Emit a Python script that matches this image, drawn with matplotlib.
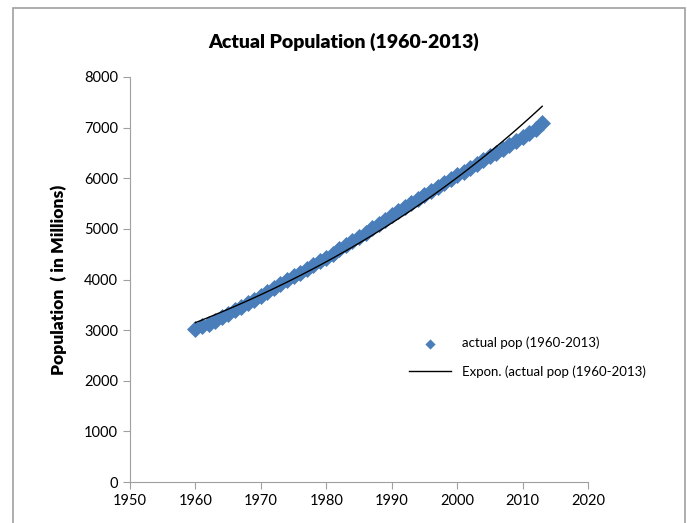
import numpy as np
import matplotlib.pyplot as plt
from matplotlib.patches import Rectangle

years = list(range(1960, 2014))
pop = [3032, 3073, 3126, 3190, 3256, 3322, 3393, 3460, 3531, 3604,
       3682, 3760, 3836, 3912, 3988, 4062, 4135, 4208, 4282, 4358,
       4434, 4512, 4593, 4675, 4757, 4840, 4925, 5012, 5099, 5185,
       5271, 5354, 5435, 5515, 5594, 5672, 5750, 5827, 5903, 5979,
       6055, 6131, 6206, 6281, 6356, 6432, 6508, 6585, 6662, 6741,
       6819, 6897, 6977, 7090]

x = np.array(years, dtype=float)
y = np.array(pop, dtype=float)

# Excel-style exponential trendline: least squares on ln(y)
b, ln_a = np.polyfit(x, np.log(y), 1)
trend = np.exp(ln_a + b * x)

plt.rcParams['font.family'] = ['Lato', 'DejaVu Sans']

fig = plt.figure(figsize=(6.87, 5.23), dpi=100)
ax = fig.add_axes([130/687, 1 - 482/523, 458/687, 405/523])

ax.scatter(x, y, marker='D', s=75, color='#4a7ebb', zorder=2,
           label='actual pop (1960-2013)', linewidths=0)
ax.plot(x, trend, color='black', lw=1.0, zorder=3,
        label='Expon. (actual pop (1960-2013)')

ax.set_xlim(1950, 2020)
ax.set_ylim(0, 8000)
ax.set_xticks(range(1950, 2021, 10))
ax.set_yticks(range(0, 8001, 1000))
for s in ['top', 'right']:
    ax.spines[s].set_visible(False)
for s in ['left', 'bottom']:
    ax.spines[s].set_color('#a0a0a0')
ax.tick_params(colors='#a0a0a0', labelcolor='black', labelsize=10.5,
               direction='out', length=5)
ax.set_ylabel('Population  ( in Millions)', fontsize=12.5, fontweight='heavy',
              labelpad=12)
fig.text(0.5, 1 - 42/523, 'Actual Population (1960-2013)', ha='center',
         va='center', fontsize=14, fontweight='heavy')

leg = ax.legend(loc='upper left', bbox_to_anchor=(397/687, 1 - 325/523),
                bbox_transform=fig.transFigure, frameon=False, fontsize=9.5,
                labelspacing=1.2, handlelength=3.2, markerscale=0.6)

fig.patches.append(Rectangle((13/687, -0.01), 672/687, 1 - 8/523 + 0.01,
                             transform=fig.transFigure, fill=False,
                             edgecolor='#a0a0a0', lw=1.2))

fig.savefig('out.png', dpi=100)
